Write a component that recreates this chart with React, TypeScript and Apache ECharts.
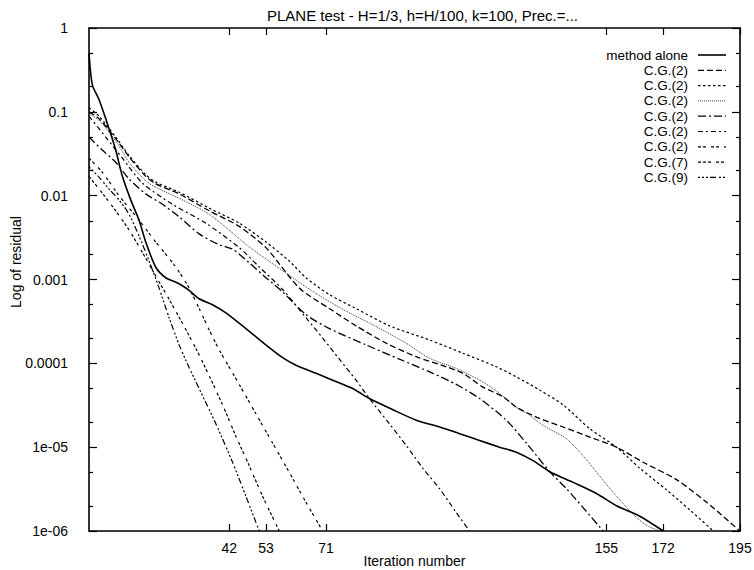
import React, { useEffect, useRef } from 'react';
import * as echarts from 'echarts';

const titleText = 'PLANE test - H=1/3, h=H/100, k=100, Prec.=...';
const xAxisName = 'Iteration number';
const yAxisName = 'Log of residual';

const xTickValues = [42, 53, 71, 155, 172, 195];
const yMajorValues = [1e-6, 1e-5, 1e-4, 1e-3, 1e-2, 1e-1, 1];
const yTickLabels = ['1e-06', '1e-05', '0.0001', '0.001', '0.01', '0.1', '1'];
const yMinorValues = [2e-6, 5e-6, 2e-5, 5e-5, 2e-4, 5e-4, 2e-3, 5e-3, 2e-2, 5e-2, 2e-1, 5e-1];

const seriesNames = [
  'method alone', 'C.G.(2)', 'C.G.(2)', 'C.G.(2)', 'C.G.(2)', 'C.G.(2)', 'C.G.(2)', 'C.G.(7)', 'C.G.(9)',
];

// [iteration, residual]
const methodAlone: [number, number][] = [
  [0, 5e-1], [1, 2.1e-1], [3, 1.4e-1], [6, 6.3e-2], [8, 3.5e-2], [10, 1.7e-2], [12.5, 8.9e-3],
  [15, 5.1e-3], [17, 2.8e-3], [20, 1.4e-3], [23, 1.05e-3], [27, 8.9e-4], [30, 7.4e-4], [33, 5.9e-4],
  [37, 5e-4], [41, 4e-4], [47, 2.6e-4], [53, 1.66e-4], [58, 1.17e-4], [62, 9.5e-5], [68, 7.6e-5],
  [73, 6.3e-5], [79, 5e-5], [84, 3.8e-5], [91, 2.8e-5], [98, 2.1e-5], [105, 1.74e-5], [111, 1.45e-5],
  [117, 1.2e-5], [123, 1e-5], [128, 8.7e-6], [133, 6.9e-6], [138, 5.1e-6], [145, 3.8e-6],
  [152, 2.8e-6], [158, 2e-6], [165, 1.5e-6], [172, 1e-6],
];
const cg2a: [number, number][] = [
  [0, 1e-1], [3, 8.3e-2], [8, 4.8e-2], [12, 2.9e-2], [17, 1.7e-2], [20, 1.38e-2], [27, 1.05e-2],
  [36, 6.6e-3], [45, 4.3e-3], [53, 2.4e-3], [63, 7.9e-4], [72, 4.5e-4], [80, 2.8e-4], [89, 1.74e-4],
  [98, 1.2e-4], [107, 9.1e-5], [112, 7.6e-5], [118, 5.2e-5], [124, 4e-5], [128, 3e-5], [135, 2.2e-5],
  [142, 1.74e-5], [150, 1.32e-5], [158, 1e-5], [166, 6.6e-6], [176, 4.1e-6], [185, 2.2e-6], [195, 1e-6],
];
const cg2b: [number, number][] = [
  [0, 1.12e-1], [3, 8.9e-2], [8, 5e-2], [12, 3e-2], [17, 1.78e-2], [20, 1.45e-2], [27, 1.1e-2],
  [36, 7.1e-3], [45, 4.7e-3], [53, 2.8e-3], [60, 1.66e-3], [65, 1.05e-3], [72, 6.6e-4], [80, 4.5e-4],
  [90, 2.8e-4], [102, 1.9e-4], [112, 1.32e-4], [122, 9.1e-5], [128, 6.9e-5], [135, 4.8e-5],
  [142, 3.2e-5], [150, 1.66e-5], [158, 1e-5], [165, 5.6e-6], [173, 3.1e-6], [180, 1.78e-6], [187, 1e-6],
];
const cg2c: [number, number][] = [
  [0, 9.5e-2], [3, 7.9e-2], [8, 4.5e-2], [12, 2.5e-2], [17, 1.5e-2], [20, 1.26e-2], [27, 9.3e-3],
  [36, 6e-3], [48, 2.45e-3], [60, 1.12e-3], [68, 6.8e-4], [77, 4.2e-4], [86, 2.75e-4], [95, 1.74e-4],
  [102, 1.15e-4], [110, 8.7e-5], [117, 6.3e-5], [122, 4.7e-5], [128, 3e-5], [132, 2.4e-5],
  [136, 1.82e-5], [143, 1.26e-5], [148, 7.9e-6], [153, 4.5e-6], [158, 2.6e-6], [163, 1.58e-6],
  [167, 1.17e-6], [171, 1e-6],
];
const cg2d: [number, number][] = [
  [0, 5e-2], [4, 3.5e-2], [8, 2.5e-2], [12, 1.58e-2], [17, 1.05e-2], [22, 7.9e-3], [27, 5.6e-3],
  [33, 3.5e-3], [39, 2.6e-3], [43, 2.3e-3], [48, 1.58e-3], [53, 1.05e-3], [58, 7.1e-4], [65, 3.8e-4],
  [72, 2.6e-4], [83, 1.66e-4], [93, 1.12e-4], [103, 7.6e-5], [110, 5.6e-5], [117, 3.8e-5],
  [125, 2.1e-5], [131, 1.12e-5], [138, 5.1e-6], [143, 3.2e-6], [148, 1.9e-6], [154, 1e-6],
];
const cg2e: [number, number][] = [
  [0, 8.9e-2], [5, 5e-2], [10, 2.8e-2], [16, 1.41e-2], [25, 7.9e-3], [35, 4.7e-3], [45, 2.4e-3],
  [51, 1.41e-3], [58, 7.6e-4], [65, 3.5e-4], [70, 2e-4], [75, 1.12e-4], [80, 6.3e-5], [84, 3.8e-5],
  [90, 1.9e-5], [95, 1.05e-5], [100, 5.6e-6], [105, 3.2e-6], [110, 1.66e-6], [114, 1e-6],
];
const cg2f: [number, number][] = [
  [0, 2.8e-2], [4, 1.9e-2], [9, 1e-2], [15, 5.1e-3], [20, 2.8e-3], [26, 1.41e-3], [30, 7.9e-4],
  [33, 4.5e-4], [36, 2.5e-4], [39, 1.45e-4], [45, 5.6e-5], [50, 2.5e-5], [55, 1.12e-5], [60, 5e-6],
  [65, 2.2e-6], [70, 1e-6],
];
const cg7: [number, number][] = [
  [0, 1.7e-2], [4, 1.07e-2], [8, 6.6e-3], [12, 3.9e-3], [16, 2.1e-3], [20, 1.1e-3], [24, 5.8e-4],
  [28, 3e-4], [32, 1.51e-4], [36, 7.1e-5], [40, 3.2e-5], [44, 1.35e-5], [48, 6e-6], [52, 2.6e-6],
  [57, 1e-6],
];
const cg9: [number, number][] = [
  [0, 2.2e-2], [3, 1.66e-2], [6, 1.2e-2], [9, 8.9e-3], [12, 6e-3], [15, 3.3e-3], [18, 1.66e-3],
  [21, 7.9e-4], [24, 3.5e-4], [27, 1.66e-4], [30, 8.9e-5], [33, 5e-5], [38, 1.9e-5], [43, 6.6e-6],
  [47, 2.6e-6], [51, 1e-6],
];

const seriesData = [methodAlone, cg2a, cg2b, cg2c, cg2d, cg2e, cg2f, cg7, cg9];

const lineStyles: { width: number; dash: number[] | 'solid' }[] = [
  { width: 1.6, dash: 'solid' },
  { width: 1.3, dash: [6, 3] },
  { width: 1.2, dash: [2.5, 2.5] },
  { width: 0.8, dash: [1, 1] },
  { width: 1.3, dash: [8, 3, 2, 3] },
  { width: 1.2, dash: [5, 3, 2, 3] },
  { width: 1.2, dash: [3, 2, 3, 5] },
  { width: 1.2, dash: [3, 2, 3, 2, 3, 5] },
  { width: 1.2, dash: [2, 2, 2, 2, 2, 2, 6, 3] },
];

const FONT = '"Liberation Sans", Arial, Helvetica, sans-serif';

export default function App() {
  const ref = useRef<HTMLDivElement>(null);
  useEffect(() => {
    if (!ref.current) return;
    const chart = echarts.init(ref.current, null, { renderer: 'svg' });
    const axisLineStyle = { color: '#000', width: 1.6 };
    const tickLine = { color: '#000', width: 1.2 };
    const legendX = 688;
    const legendY0 = 55;
    const legendStep = 15.3;
    const legendGraphics: any[] = [];
    seriesNames.forEach((name, i) => {
      const y = legendY0 + i * legendStep;
      const ls = lineStyles[i];
      legendGraphics.push({
        type: 'text', x: legendX, y,
        style: { text: name, align: 'right', verticalAlign: 'middle', fontSize: 13.5, fontFamily: FONT, fill: '#000' },
      });
      legendGraphics.push({
        type: 'line', shape: { x1: 698, y1: y, x2: 726, y2: y },
        style: { stroke: '#000', lineWidth: ls.width, lineDash: ls.dash === 'solid' ? null : ls.dash },
      });
    });
    const yLabel = (v: number) => {
      const idx = Math.round(Math.log10(v)) + 6;
      return yTickLabels[idx] ?? '';
    };
    const option: any = {
      animation: false,
      backgroundColor: '#fff',
      textStyle: { fontFamily: FONT, color: '#000' },
      title: {
        text: titleText, left: 262, top: 3,
        textStyle: { fontSize: 15, fontWeight: 'normal', fontFamily: FONT, color: '#000' },
      },
      grid: { left: 89, right: 14, top: 28, bottom: 39, outerBoundsMode: 'none', containLabel: false },
      xAxis: [
        {
          type: 'value', min: 0, max: 195, position: 'bottom',
          axisLine: { show: true, lineStyle: axisLineStyle },
          axisTick: { show: true, inside: true, length: 7, customValues: xTickValues, lineStyle: tickLine },
          axisLabel: { customValues: xTickValues, fontSize: 14, margin: 10, color: '#000', fontFamily: FONT },
          splitLine: { show: false },
          name: xAxisName, nameLocation: 'middle', nameGap: 23, nameMoveOverlap: false,
          nameTextStyle: { fontSize: 14, color: '#000', fontFamily: FONT },
        },
        {
          type: 'value', min: 0, max: 195, position: 'top',
          axisLine: { show: true, lineStyle: axisLineStyle },
          axisTick: { show: true, inside: true, length: 7, customValues: xTickValues, lineStyle: tickLine },
          axisLabel: { show: false },
          splitLine: { show: false },
        },
      ],
      yAxis: [
        {
          type: 'log', logBase: 10, min: 1e-6, max: 1, position: 'left',
          axisLine: { show: true, lineStyle: axisLineStyle },
          axisTick: { show: true, inside: true, length: 8, customValues: yMajorValues, lineStyle: tickLine },
          axisLabel: { customValues: yMajorValues, formatter: yLabel, fontSize: 14, margin: 21, color: '#000', fontFamily: FONT },
          splitLine: { show: false },
        },
        {
          type: 'log', logBase: 10, min: 1e-6, max: 1, position: 'left',
          axisLine: { show: false },
          axisTick: { show: true, inside: true, length: 4, customValues: yMinorValues, lineStyle: tickLine },
          axisLabel: { show: false },
          splitLine: { show: false },
        },
        {
          type: 'log', logBase: 10, min: 1e-6, max: 1, position: 'right',
          axisLine: { show: true, lineStyle: axisLineStyle },
          axisTick: { show: true, inside: true, length: 8, customValues: yMajorValues, lineStyle: tickLine },
          axisLabel: { show: false },
          splitLine: { show: false },
        },
        {
          type: 'log', logBase: 10, min: 1e-6, max: 1, position: 'right',
          axisLine: { show: false },
          axisTick: { show: true, inside: true, length: 4, customValues: yMinorValues, lineStyle: tickLine },
          axisLabel: { show: false },
          splitLine: { show: false },
        },
      ],
      graphic: [
        {
          type: 'text', x: 16, y: 262, rotation: Math.PI / 2,
          style: { text: yAxisName, align: 'center', verticalAlign: 'middle', fontSize: 14, fontFamily: FONT, fill: '#000' },
        },
        ...legendGraphics,
      ],
      series: seriesData.map((d, i) => ({
        type: 'line',
        name: seriesNames[i],
        data: d,
        xAxisIndex: 0,
        yAxisIndex: 0,
        symbol: 'none',
        showSymbol: false,
        smooth: 0.25,
        clip: true,
        lineStyle: { color: '#000', width: lineStyles[i].width, type: lineStyles[i].dash },
        emphasis: { disabled: true },
      })),
    };
    chart.setOption(option);
    return () => chart.dispose();
  }, []);
  return (
    <div
      ref={ref}
      style={{ position: 'absolute', left: 0, top: 0, width: 754, height: 570, background: '#fff' }}
    />
  );
}
